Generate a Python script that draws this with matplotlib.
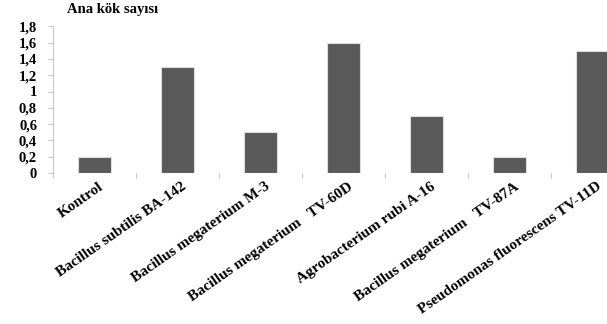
import matplotlib
matplotlib.use("Agg")
import matplotlib.pyplot as plt
import matplotlib.transforms as mtransforms
import numpy as np

# root counts per treatment
strains = ["Kontrol", "Bacillus subtilis BA-142", "Bacillus megaterium M-3",
           "Bacillus megaterium   TV-60D", "Agrobacterium rubi A-16",
           "Bacillus megaterium   TV-87A", "Pseudomonas fluorescens TV-11D"]
ana_kok = [0.2, 1.3, 0.5, 1.6, 0.7, 0.2, 1.5]
yticks = [0, 0.2, 0.4, 0.6, 0.8, 1.0, 1.2, 1.4, 1.6, 1.8]
ylabels = ["0", "0,2", "0,4", "0,6", "0,8", "1", "1,2", "1,4", "1,6", "1,8"]

plt.rcParams['font.family'] = ['Liberation Serif', 'DejaVu Serif']
plt.rcParams['font.weight'] = 'bold'

W, H = 607, 324
fig = plt.figure(figsize=(W / 100, H / 100), dpi=100)
# axes run past the right edge, so the last bar gets cut
ax = fig.add_axes([53 / W, (H - 173) / H, 581 / W, (173 - 26.3) / H])

x = np.arange(len(strains))
ax.bar(x, ana_kok, width=0.4, color='#595959', edgecolor='#dcdcdc', linewidth=0.8)

ax.set_xlim(-0.5, len(strains) - 0.5)
ax.set_ylim(0, 1.8)
ax.set_yticks(yticks)
ax.set_yticklabels(ylabels, fontsize=10.5, fontweight='bold')

for s in ['top', 'right', 'bottom']:
    ax.spines[s].set_visible(False)
ax.spines['left'].set_color('#c8c8c8')
ax.spines['left'].set_linewidth(0.8)
ax.tick_params(axis='y', length=3.5, color='#c8c8c8', width=0.8, pad=8)

# category boundary ticks below the baseline
ax.set_xticks(np.arange(-0.5, len(strains), 1.0), minor=True)
ax.tick_params(axis='x', which='minor', length=3.5, color='#c8c8c8', width=0.8)
ax.set_xticks(x)
ax.tick_params(axis='x', which='major', length=0, pad=5)
ax.set_xticklabels(strains, rotation=35, ha='right', rotation_mode='anchor',
                   fontsize=11, fontweight='bold')
shift = mtransforms.ScaledTranslation(4 / 100, 0, fig.dpi_scale_trans)
for lab in ax.get_xticklabels():
    lab.set_transform(lab.get_transform() + shift)

fig.text(67 / W, 1 - 9 / H, "Ana kök sayısı", fontsize=10.5, fontweight='bold',
         ha='left', va='center')

fig.savefig("out.png", dpi=100)
